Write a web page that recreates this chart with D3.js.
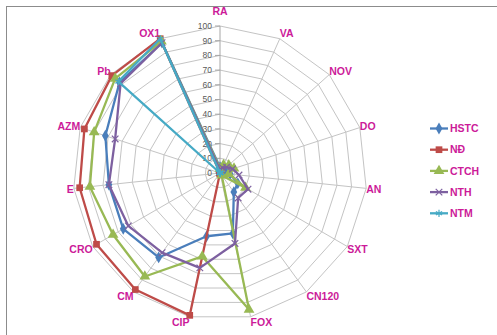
<!DOCTYPE html>
<html><head><meta charset="utf-8">
<script src="https://cdn.jsdelivr.net/npm/d3@7"></script>
<style>body{margin:0;background:#fff}svg{display:block}</style>
</head><body>
<script>
const categories = ["RA","VA","NOV","DO","AN","SXT","CN120","FOX","CIP","CM","CRO","E","AZM","Pb","OX1"];
const seriesNames = ["HSTC","NĐ","CTCH","NTH","NTM"];
const HSTC = [4,5,3,4,7,14,16,42,44,71,76,76,82,92,97];
const ND   = [0,0,0,0,0,0,0,0,99,98,97,96,97,99,100];
const CTCH = [3,6,8,10,6,20,2,95,58,87,84,89,90,96,98];
const NTH  = [2,4,6,9,13,22,21,49,66,67,72,76,75,91,97];
const NTM  = [0,0,0,0,0,0,0,0,0,0,0,0,0,93,100];
const tickValues = [0,10,20,30,40,50,60,70,80,90,100];

const values = [HSTC, ND, CTCH, NTH, NTM];
const colors = ["#4a7ebb","#be4b48","#98b954","#7d60a0","#46aac5"];
const symbols = [d3.symbolDiamond, d3.symbolSquare, d3.symbolTriangle, d3.symbolTimes, d3.symbolAsterisk];
const filled = [true,true,true,false,false];
const symSize = [40,45,50,30,36];
const labelColor = "#cc1a99";

const W=497,H=335,cx=220,cy=173,R=147;
const svg=d3.select("body").append("svg").attr("width",W).attr("height",H);
svg.append("rect").attr("x",6.5).attr("y",6.5).attr("width",520).attr("height",360)
  .attr("fill","#fff").attr("stroke","#8c8c8c").attr("stroke-width",1);

const r=d3.scaleLinear().domain([0,100]).range([0,R]);
const ang=d3.scaleLinear().domain([0,categories.length]).range([0,2*Math.PI]);
const g=svg.append("g").attr("transform",`translate(${cx},${cy})`);
const px=(i,v)=>r(v)*Math.sin(ang(i)), py=(i,v)=>-r(v)*Math.cos(ang(i));

// grid rings
tickValues.slice(1).forEach(t=>{
  g.append("path").attr("fill","none").attr("stroke","#c4c4c4").attr("stroke-width",1)
   .attr("d",d3.lineRadial().angle((d,i)=>ang(i)).radius(()=>r(t)).curve(d3.curveLinearClosed)(categories));
});
// spokes
categories.forEach((c,i)=>{
  g.append("line").attr("x1",0).attr("y1",0).attr("x2",px(i,100)).attr("y2",py(i,100))
   .attr("stroke",i===0?"#a6a6a6":"#c4c4c4").attr("stroke-width",1);
});
// tick labels
tickValues.forEach(t=>{
  g.append("line").attr("x1",-5).attr("x2",0).attr("y1",-r(t)).attr("y2",-r(t)).attr("stroke","#a6a6a6");
  g.append("text").attr("x",-8).attr("y",-r(t)).attr("dy","0.35em").attr("text-anchor","end")
   .attr("font-family","Liberation Sans, Arial, sans-serif").attr("font-size",8.5).attr("fill","#595959").text(t);
});
// category labels
categories.forEach((c,i)=>{
  const a=ang(i), s=Math.sin(a), co=Math.cos(a);
  const x=px(i,100), y=py(i,100);
  let anchor = Math.abs(s)<0.05?"middle":(s>0?"start":"end");
  let ty = anchor==="middle" ? y-15 : y - co*5.5;
  g.append("text").attr("x",x).attr("y",ty).attr("dy","0.35em").attr("text-anchor",anchor)
   .attr("font-family","Liberation Sans, Arial, sans-serif").attr("font-weight","bold").attr("font-size",10.5)
   .attr("fill",labelColor).text(c);
});
// series
values.forEach((vals,k)=>{
  g.append("path").attr("fill","none").attr("stroke",colors[k]).attr("stroke-width",2.3).attr("stroke-linejoin","round")
   .attr("d",d3.lineRadial().angle((d,i)=>ang(i)).radius(d=>r(d)).curve(d3.curveLinearClosed)(vals));
  vals.forEach((v,i)=>{
    const sym=g.append("path").attr("d",d3.symbol().type(symbols[k]).size(symSize[k])())
      .attr("transform",`translate(${px(i,v)},${py(i,v)})`);
    if(filled[k]) sym.attr("fill",colors[k]).attr("stroke","none");
    else sym.attr("fill","none").attr("stroke",colors[k]).attr("stroke-width",1.2);
  });
});
// legend
const lg=svg.append("g");
seriesNames.forEach((n,k)=>{
  const y=128.5+k*21.2;
  lg.append("line").attr("x1",430).attr("x2",448).attr("y1",y).attr("y2",y).attr("stroke",colors[k]).attr("stroke-width",2.3);
  const sym=lg.append("path").attr("d",d3.symbol().type(symbols[k]).size(symSize[k])()).attr("transform",`translate(439,${y})`);
  if(filled[k]) sym.attr("fill",colors[k]); else sym.attr("fill","none").attr("stroke",colors[k]).attr("stroke-width",1.2);
  lg.append("text").attr("x",450).attr("y",y).attr("dy","0.35em").attr("font-family","Liberation Sans, Arial, sans-serif")
   .attr("font-weight","bold").attr("font-size",10.5).attr("fill",labelColor).text(n);
});
</script>
</body></html>
